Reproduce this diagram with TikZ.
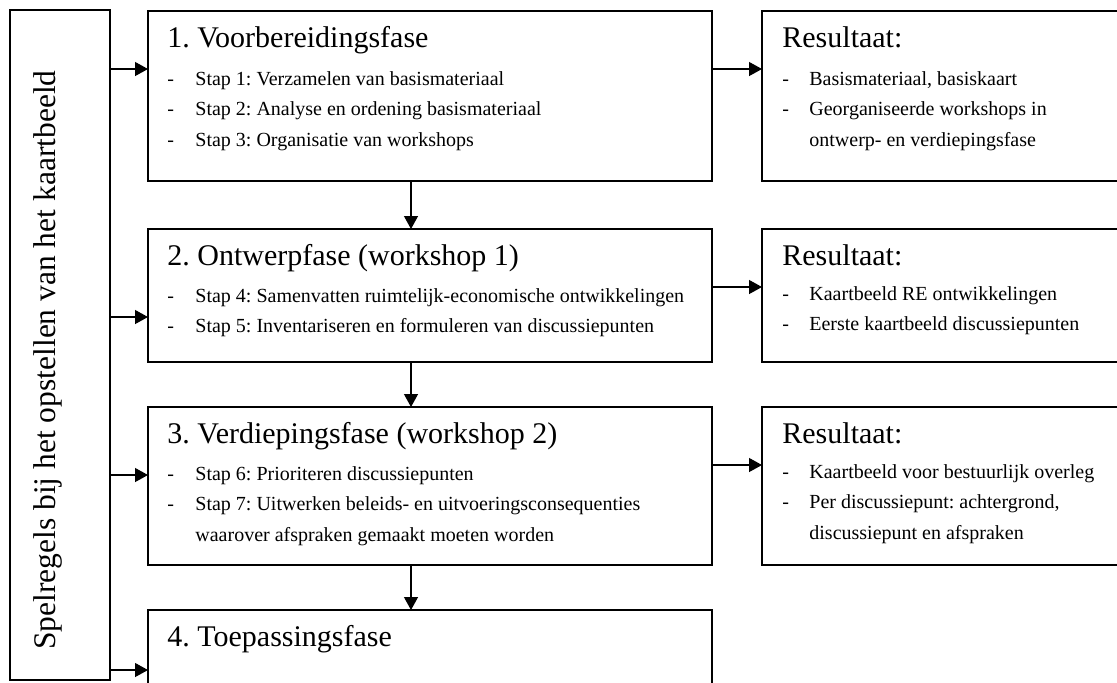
\documentclass[tikz,border=0pt]{standalone}
\usepackage{fontspec}
\setmainfont{Liberation Serif}
\usetikzlibrary{arrows.meta}
\frenchspacing

\begin{document}
\begin{tikzpicture}[x=0.5pt, y=-0.5pt,
	kader/.style={draw, line width=0.9pt, anchor=north west, inner sep=0, outer sep=0},
	fase/.style={kader, minimum width=282pt},
	result/.style={kader, minimum width=200pt},
	kop/.style={anchor=base west, inner sep=0, font=\fontsize{15}{18}\selectfont},
	lijst/.style={anchor=base west, inner sep=0, font=\fontsize{10}{15.25}\selectfont},
	pijl/.style={-{Triangle[length=6.5pt,width=7pt]}, line width=0.6pt}]
			\def \fx{148} % left edge of the phase boxes
			\def \rx{762} % left edge of the result boxes
			\useasboundingbox (0, 0) rectangle (1117, 682);
			\clip (0, 0) rectangle (1117, 682);
			% spelregels
			\node[kader, minimum width=50pt, minimum height=335pt] (regels) at (10, 10) {};
			\node[anchor=base west, rotate=90, inner sep=0, font=\fontsize{15.75}{18}\selectfont] (regeltekst) at (55, 650) {Spelregels bij het opstellen van het kaartbeeld};
			% fasen
			\node[fase, minimum height=85pt] (f1) at (\fx, 11) {};
			\node[fase, minimum height=66.5pt] (f2) at (\fx, 229) {};
			\node[fase, minimum height=79pt] (f3) at (\fx, 407) {};
			\node[fase, minimum height=60pt] (f4) at (\fx, 610) {};
			\node[kop] (f1kop) at ([xshift=9.5pt, yshift=-18pt]f1.north west) {1. Voorbereidingsfase};
			\node[lijst] (f1lijst) at ([xshift=9.5pt, yshift=-37pt]f1.north west) {\begin{tabular}[t]{@{}p{14pt}@{}l@{}}
				-&Stap 1: Verzamelen van basismateriaal\\
				-&Stap 2: Analyse en ordening basismateriaal\\
				-&Stap 3: Organisatie van workshops
			\end{tabular}};
			\node[kop] (f2kop) at ([xshift=9.5pt, yshift=-18pt]f2.north west) {2. Ontwerpfase (workshop 1)};
			\node[lijst] (f2lijst) at ([xshift=9.5pt, yshift=-36.5pt]f2.north west) {\begin{tabular}[t]{@{}p{14pt}@{}l@{}}
				-&Stap 4: Samenvatten ruimtelijk-economische ontwikkelingen\\
				-&Stap 5: Inventariseren en formuleren van discussiepunten
			\end{tabular}};
			\node[kop] (f3kop) at ([xshift=9.5pt, yshift=-18pt]f3.north west) {3. Verdiepingsfase (workshop 2)};
			\node[lijst] (f3lijst) at ([xshift=9.5pt, yshift=-36.5pt]f3.north west) {\begin{tabular}[t]{@{}p{14pt}@{}l@{}}
				-&Stap 6: Prioriteren discussiepunten\\
				-&Stap 7: Uitwerken beleids- en uitvoeringsconsequenties\\
				&waarover afspraken gemaakt moeten worden
			\end{tabular}};
			\node[kop] (f4kop) at ([xshift=9.5pt, yshift=-18pt]f4.north west) {4. Toepassingsfase};
			% resultaten
			\node[result, minimum height=85pt] (r1) at (\rx, 11) {};
			\node[result, minimum height=66.5pt] (r2) at (\rx, 229) {};
			\node[result, minimum height=79pt] (r3) at (\rx, 407) {};
			\node[kop] (r1kop) at ([xshift=10pt, yshift=-18pt]r1.north west) {Resultaat:};
			\node[lijst] (r1lijst) at ([xshift=10pt, yshift=-37pt]r1.north west) {\begin{tabular}[t]{@{}p{13.5pt}@{}l@{}}
				-&Basismateriaal, basiskaart\\
				-&Georganiseerde workshops in\\
				&ontwerp- en verdiepingsfase
			\end{tabular}};
			\node[kop] (r2kop) at ([xshift=10pt, yshift=-18pt]r2.north west) {Resultaat:};
			\node[lijst] (r2lijst) at ([xshift=10pt, yshift=-35.5pt]r2.north west) {\begin{tabular}[t]{@{}p{13.5pt}@{}l@{}}
				-&Kaartbeeld RE ontwikkelingen\\
				-&Eerste kaartbeeld discussiepunten
			\end{tabular}};
			\node[kop] (r3kop) at ([xshift=10pt, yshift=-18pt]r3.north west) {Resultaat:};
			\node[lijst] (r3lijst) at ([xshift=10pt, yshift=-35.5pt]r3.north west) {\begin{tabular}[t]{@{}p{13.5pt}@{}l@{}}
				-&Kaartbeeld voor bestuurlijk overleg\\
				-&Per discussiepunt: achtergrond,\\
				&discussiepunt en afspraken
			\end{tabular}};
			% pijlen
			\coordinate (a1) at ([yshift=-29pt]f1.north west);
			\coordinate (a2) at ([yshift=-44pt]f2.north west);
			\coordinate (a3) at ([yshift=-34pt]f3.north west);
			\coordinate (a4) at ([yshift=-30pt]f4.north west);
			\foreach \a in {a1, a2, a3, a4}
				\draw[pijl] (regels.east |- \a) -- (\a);
			\foreach \f/\r in {f1/r1, f2/r2, f3/r3}
				\draw[pijl] ([yshift=-29pt]\f.north east) -- ([yshift=-29pt]\r.north west);
			\draw[pijl] ([xshift=131.5pt]f1.south west) -- ([xshift=131.5pt]f2.north west);
			\draw[pijl] ([xshift=131.5pt]f2.south west) -- ([xshift=131.5pt]f3.north west);
			\draw[pijl] ([xshift=131.5pt]f3.south west) -- ([xshift=131.5pt]f4.north west);
		\end{tikzpicture}
\end{document}
